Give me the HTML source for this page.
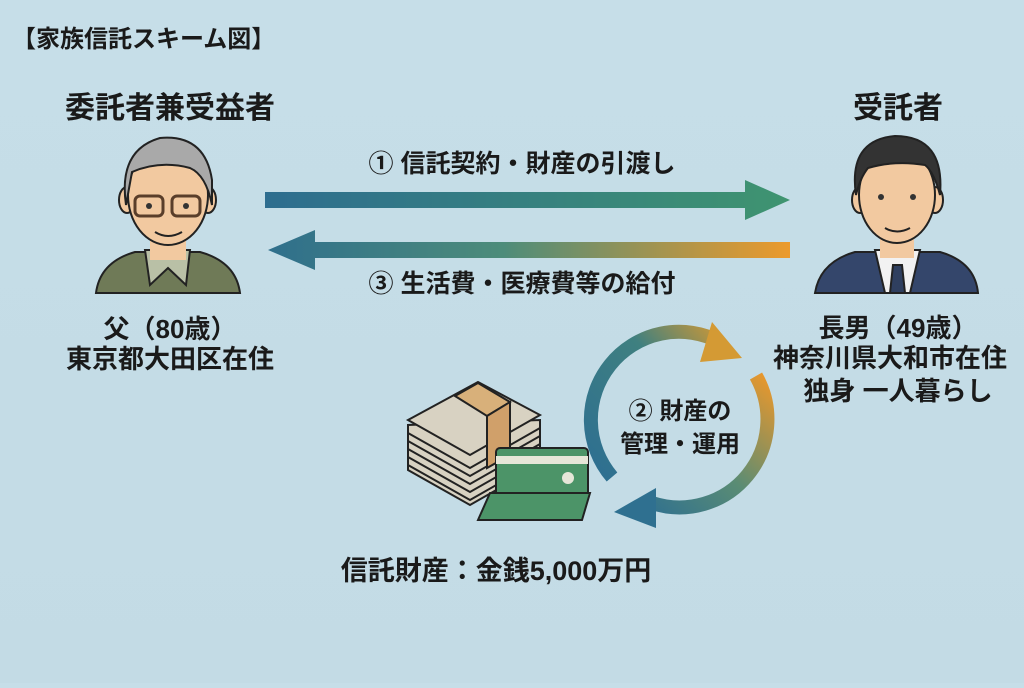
<!DOCTYPE html>
<html><head><meta charset="utf-8"><style>
html,body{margin:0;padding:0}
body{width:1024px;height:683px;overflow:hidden;background:linear-gradient(#c6dee8,#c3dbe5);font-family:"Liberation Sans","Noto Sans CJK JP",sans-serif;}
svg text{font-family:"Liberation Sans","Noto Sans CJK JP",sans-serif;font-weight:bold;fill:#1a1a1a}
</style></head><body>
<svg width="1024" height="683" viewBox="0 0 1024 683" xmlns="http://www.w3.org/2000/svg">
<defs>
<linearGradient id="g1" x1="0" x2="1"><stop offset="0" stop-color="#2e6d8f"/><stop offset="1" stop-color="#3f9470"/></linearGradient>
<linearGradient id="g2" x1="0" x2="1"><stop offset="0" stop-color="#2f6f8c"/><stop offset="0.45" stop-color="#4d8c7a"/><stop offset="1" stop-color="#ec9a2c"/></linearGradient>
<linearGradient id="g3" gradientUnits="userSpaceOnUse" x1="600" y1="470" x2="740" y2="340"><stop offset="0" stop-color="#2f7090"/><stop offset="0.6" stop-color="#3f8080"/><stop offset="1" stop-color="#d99a30"/></linearGradient>
<linearGradient id="g4" gradientUnits="userSpaceOnUse" x1="765" y1="370" x2="640" y2="510"><stop offset="0" stop-color="#ee982a"/><stop offset="0.55" stop-color="#5a8c74"/><stop offset="1" stop-color="#2f7090"/></linearGradient>
</defs>
<text x="12" y="47" font-size="24">【家族信託スキーム図】</text>
<text x="170" y="118" font-size="30" text-anchor="middle">委託者兼受益者</text>
<text x="898" y="118" font-size="30" text-anchor="middle">受託者</text>

<!-- old man -->
<g stroke="#222" stroke-width="2">
<path d="M96 293 Q100 262 135 252 L200 252 Q236 262 240 293 Z" fill="#6f7a57"/>
<path d="M145 250 L150 285 L168 268 L186 285 L190 250 Z" fill="#b9c0a6"/>
<rect x="150" y="225" width="36" height="35" fill="#f2c9a0" stroke="none"/>
<ellipse cx="127" cy="200" rx="8" ry="13" fill="#f2c9a0"/>
<ellipse cx="208" cy="200" rx="8" ry="13" fill="#f2c9a0"/>
<ellipse cx="168" cy="195" rx="40" ry="50" fill="#f2c9a0"/>
<path d="M126 205 Q118 150 160 138 Q205 134 212 180 L212 205 Q206 175 190 168 Q160 160 132 172 Z" fill="#a9a9a9"/>
<rect x="135" y="196" width="28" height="20" rx="5" fill="none" stroke="#5a3e2a" stroke-width="3"/>
<rect x="172" y="196" width="28" height="20" rx="5" fill="none" stroke="#5a3e2a" stroke-width="3"/>
<path d="M155 232 Q168 240 182 232" fill="none"/>
</g>
<circle cx="149" cy="206" r="3" fill="#333"/><circle cx="186" cy="206" r="3" fill="#333"/>

<!-- young man -->
<g stroke="#222" stroke-width="2">
<path d="M815 293 Q820 262 855 252 L940 252 Q975 262 978 293 Z" fill="#34466b"/>
<path d="M875 250 L885 293 L910 293 L920 250 Z" fill="#f2f2f2"/>
<path d="M893 265 L902 265 L905 293 L890 293 Z" fill="#2f3f5f"/>
<rect x="880" y="228" width="34" height="30" fill="#f2c9a0" stroke="none"/>
<ellipse cx="860" cy="200" rx="8" ry="13" fill="#f2c9a0"/>
<ellipse cx="935" cy="200" rx="8" ry="13" fill="#f2c9a0"/>
<ellipse cx="897" cy="195" rx="38" ry="48" fill="#f2c9a0"/>
<path d="M856 195 Q848 140 895 136 Q945 136 940 195 Q934 172 925 165 Q895 160 868 168 Q860 178 856 195 Z" fill="#333"/>
<path d="M885 228 Q897 235 910 228" fill="none"/>
</g>
<circle cx="881" cy="197" r="3" fill="#333"/><circle cx="913" cy="197" r="3" fill="#333"/>

<!-- arrows -->
<text x="522" y="172" font-size="25" text-anchor="middle">① 信託契約・財産の引渡し</text>
<path d="M265 192 L745 192 L745 180 L790 200 L745 220 L745 208 L265 208 Z" fill="url(#g1)"/>
<path d="M790 242 L315 242 L315 230 L268 250 L315 270 L315 258 L790 258 Z" fill="url(#g2)"/>
<text x="522" y="292" font-size="25" text-anchor="middle">③ 生活費・医療費等の給付</text>

<text x="170" y="338" font-size="26" text-anchor="middle">父（80歳）</text>
<text x="170" y="368" font-size="26" text-anchor="middle">東京都大田区在住</text>
<text x="898" y="337" font-size="26" text-anchor="middle">長男（49歳）</text>
<text x="890" y="367" font-size="26" text-anchor="middle">神奈川県大和市在住</text>
<text x="898" y="400" font-size="26" text-anchor="middle">独身 一人暮らし</text>

<!-- cycle -->
<path d="M612 477 A88 88 0 0 1 720 342" fill="none" stroke="url(#g3)" stroke-width="14"/>
<path d="M712 322 L742 358 L700 362 Z" fill="#d49a34"/>
<path d="M756 376 A88 88 0 0 1 652 503" fill="none" stroke="url(#g4)" stroke-width="14"/>
<path d="M656 488 L614 512 L656 528 Z" fill="#2f7090"/>
<text x="680" y="419" font-size="24" text-anchor="middle">② 財産の</text>
<text x="680" y="452" font-size="24" text-anchor="middle">管理・運用</text>

<!-- money -->
<g stroke="#222" stroke-width="2">
<path d="M408 425 L408 470 L470 505 L540 465 L540 420 Z" fill="#d8d2c2"/>
<path d="M408 433 L470 468 L540 428 M408 441 L470 476 L540 436 M408 449 L470 484 L540 444 M408 457 L470 492 L540 452 M408 465 L470 500 L540 460" fill="none"/>
<path d="M408 420 L478 382 L540 415 L470 455 Z" fill="#d8d2c2"/>
<path d="M455 396 L478 383 L510 402 L487 416 Z" fill="#d8b07a"/>
<path d="M487 416 L510 402 L510 455 L487 468 Z" fill="#d0a06a"/>
<rect x="496" y="448" width="92" height="50" rx="4" fill="#4c9468"/>
<rect x="496" y="456" width="92" height="8" fill="#e6e6d8" stroke="none"/>
<path d="M478 520 L490 493 L590 493 L582 520 Z" fill="#4c9468"/>
</g>
<circle cx="568" cy="478" r="6" fill="#e6e6d8"/>
<text x="496" y="580" font-size="27" text-anchor="middle">信託財産：金銭5,000万円</text>
</svg>
</body></html>
